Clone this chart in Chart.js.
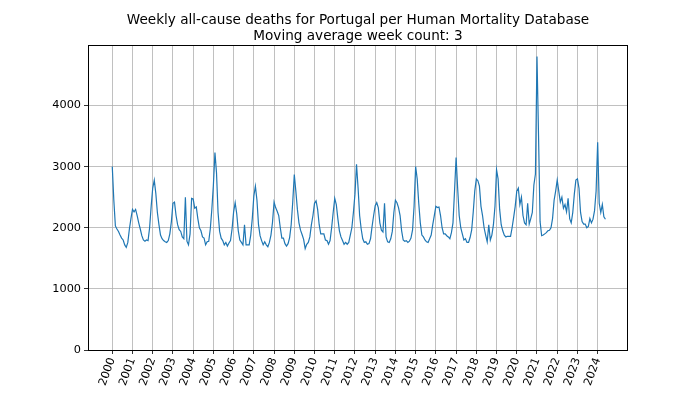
<!DOCTYPE html>
<html><head><meta charset="utf-8">
<script src="https://cdn.jsdelivr.net/npm/chart.js@4"></script>
<style>html,body{margin:0;padding:0;background:#fff}</style>
</head><body>
<canvas id="c" width="700" height="394" style="width:700px;height:394px;display:block"></canvas>
<script>
const titleLines = ["Weekly all-cause deaths for Portugal per Human Mortality Database", "Moving average week count: 3"];
const yearTicks = [2000,2001,2002,2003,2004,2005,2006,2007,2008,2009,2010,2011,2012,2013,2014,2015,2016,2017,2018,2019,2020,2021,2022,2023,2024];
const deathTicks = [0,1000,2000,3000,4000];
// one value every 4 weeks (13 per year)
const samplesPerYear = 13;
const deaths2000 = [3000,2450,2030,1980,1940,1880,1830,1800,1720,1680,1760,1980,2150];
const deaths2001 = [2300,2260,2300,2200,2080,1980,1870,1800,1780,1800,1790,2000,2350];
const deaths2002 = [2650,2780,2560,2250,2050,1880,1820,1790,1770,1760,1790,1900,2100];
const deaths2003 = [2400,2420,2200,2050,1970,1940,1850,1820,2500,1780,1720,1900,2480];
const deaths2004 = [2470,2320,2340,2150,2000,1950,1850,1830,1720,1770,1780,1980,2300];
const deaths2005 = [2700,3230,2900,2250,1940,1830,1790,1720,1760,1700,1750,1790,1980];
const deaths2006 = [2260,2410,2230,1950,1800,1760,1720,2050,1720,1720,1720,1880,2150];
const deaths2007 = [2520,2680,2450,2050,1870,1790,1720,1770,1720,1690,1760,1880,2090];
const deaths2008 = [2420,2330,2270,2200,2000,1830,1830,1740,1700,1740,1840,2050,2420];
const deaths2009 = [2870,2600,2300,2080,1960,1890,1810,1660,1730,1760,1850,2050,2200];
const deaths2010 = [2400,2440,2300,2050,1900,1900,1900,1800,1790,1730,1790,2000,2250];
const deaths2011 = [2480,2380,2150,1950,1850,1790,1730,1760,1730,1760,1880,2000,2250];
const deaths2012 = [2550,3040,2650,2200,1980,1820,1760,1770,1730,1740,1820,2020,2200];
const deaths2013 = [2360,2410,2330,2080,1960,1930,2400,1850,1770,1760,1820,1940,2250];
const deaths2014 = [2450,2410,2330,2200,1950,1800,1780,1790,1760,1780,1830,1960,2350];
const deaths2015 = [3000,2800,2400,2080,1880,1850,1800,1770,1760,1820,1880,2050,2200];
const deaths2016 = [2350,2330,2340,2200,2000,1900,1900,1870,1850,1820,1920,2080,2600];
const deaths2017 = [3150,2650,2200,2000,1900,1800,1820,1760,1760,1840,1960,2250,2600];
const deaths2018 = [2800,2770,2680,2350,2200,2000,1880,1770,2050,1800,1880,2050,2350];
const deaths2019 = [2950,2800,2300,2050,1950,1880,1850,1860,1860,1860,2000,2170,2350];
const deaths2020 = [2600,2650,2380,2500,2200,2080,2050,2400,2060,2150,2250,2700,2880];
const deaths2021 = [4800,3500,2100,1870,1880,1900,1920,1950,1960,2000,2150,2450,2600];
const deaths2022 = [2780,2600,2420,2500,2320,2380,2260,2480,2150,2080,2250,2550,2780];
const deaths2023 = [2800,2650,2250,2100,2060,2060,2000,2020,2150,2080,2140,2280,2600];
const deaths2024 = [3400,2400,2250,2380,2180,2140];

const seriesByYear = [
  [2000,deaths2000],[2001,deaths2001],[2002,deaths2002],[2003,deaths2003],[2004,deaths2004],
  [2005,deaths2005],[2006,deaths2006],[2007,deaths2007],[2008,deaths2008],[2009,deaths2009],
  [2010,deaths2010],[2011,deaths2011],[2012,deaths2012],[2013,deaths2013],[2014,deaths2014],
  [2015,deaths2015],[2016,deaths2016],[2017,deaths2017],[2018,deaths2018],[2019,deaths2019],
  [2020,deaths2020],[2021,deaths2021],[2022,deaths2022],[2023,deaths2023],[2024,deaths2024]
];
const points = [];
seriesByYear.forEach(([yr, vals]) => vals.forEach((v, i) => points.push({x: yr + i / samplesPerYear, y: v})));

const FONT = "'DejaVu Sans', sans-serif";
const frameAndTitle = {
  id: 'frameAndTitle',
  afterDraw(chart) {
    const a = chart.chartArea, ctx = chart.ctx;
    ctx.save();
    ctx.strokeStyle = '#000';
    ctx.lineWidth = 1;
    ctx.strokeRect(Math.round(a.left) + 0.5, Math.round(a.top) + 0.5, Math.round(a.right - a.left) - 1, Math.round(a.bottom - a.top));
    ctx.fillStyle = '#000';
    ctx.font = "13.6px " + FONT;
    ctx.textAlign = 'center';
    ctx.textBaseline = 'middle';
    const cx = (a.left + a.right) / 2;
    ctx.fillText(titleLines[0], cx, 20);
    ctx.fillText(titleLines[1], cx, 36);
    ctx.restore();
  }
};

new Chart(document.getElementById('c'), {
  type: 'line',
  data: { datasets: [{ data: points, borderColor: '#1f77b4', borderWidth: 1.2, pointRadius: 0, tension: 0, fill: false }] },
  plugins: [frameAndTitle],
  options: {
    responsive: false, devicePixelRatio: 1, animation: false,
    layout: { padding: { left: 0, right: 72, top: 45, bottom: 0 } },
    plugins: { legend: { display: false }, tooltip: { enabled: false }, title: { display: false } },
    scales: {
      x: {
        type: 'linear', min: 1998.8, max: 2025.5,
        afterBuildTicks: s => { s.ticks = yearTicks.map(v => ({ value: v })); },
        afterFit: s => { s.height = 44; },
        ticks: { autoSkip: false, minRotation: 70, maxRotation: 70, color: '#000', padding: 2,
          font: { family: FONT, size: 11.3 }, callback: v => String(v) },
        grid: { color: '#b0b0b0', lineWidth: 0.8, tickColor: '#000', tickLength: 4 },
        border: { display: false }
      },
      y: {
        min: 0, max: 4990,
        afterBuildTicks: s => { s.ticks = deathTicks.map(v => ({ value: v })); },
        afterFit: s => { s.width = 88; },
        ticks: { color: '#000', padding: 3, font: { family: FONT, size: 11.3 }, callback: v => String(v) },
        grid: { color: '#b0b0b0', lineWidth: 0.8, tickColor: '#000', tickLength: 4 },
        border: { display: false }
      }
    }
  }
});
</script>
</body></html>
